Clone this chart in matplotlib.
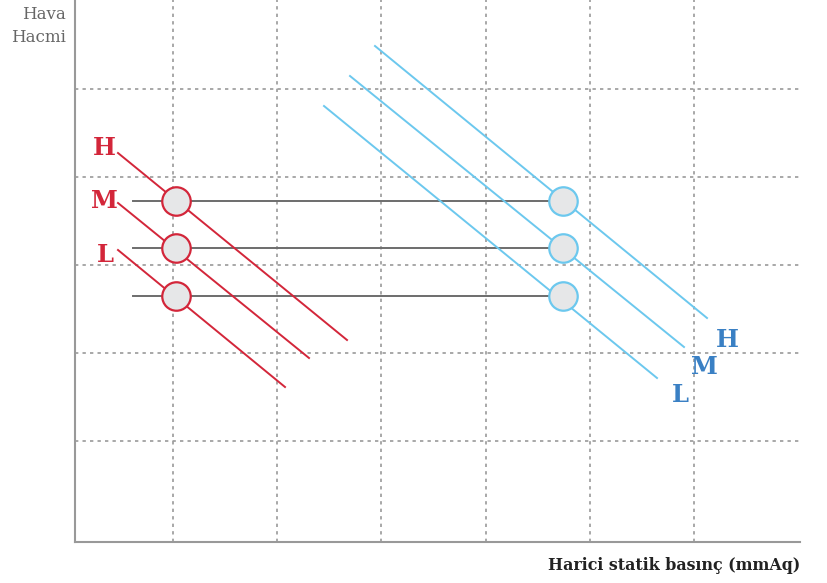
import matplotlib.pyplot as plt

# grid positions (pixel-like units)
grid_x = [173, 277, 381, 486, 590, 694]
grid_y = [89, 177, 265, 353, 441]

# working points (circles) : y positions for H, M, L
levels = ["H", "M", "L"]
point_y = [201, 248, 296]
red_x = 176
blue_x = 563
conn_x = [133, 563]

# fan curves (start / end points) for the small (red) and big (blue) unit
red_start = [(118, 153), (118, 203), (118, 250)]
red_end = [(347, 340), (309, 358), (285, 387)]
blue_start = [(375, 46), (350, 76), (324, 106)]
blue_end = [(707, 318), (684, 347), (657, 378)]

red_lbl = [(104, 148), (104, 201), (105, 255)]
blue_lbl = [(727, 340), (704, 367), (680, 395)]

RED = "#d3263a"
BLUE_LINE = "#6cc8ee"
BLUE_TXT = "#3a80c4"
GRAY = "#6d6d6d"
FILL = "#e6e7e8"

fig = plt.figure(figsize=(8.27, 5.83), dpi=100)
ax = fig.add_axes([75 / 827, 41 / 583, 725 / 827, 542 / 583])
ax.set_xlim(75, 800)
ax.set_ylim(542, 0)

for gx in grid_x:
    ax.axvline(gx, color="#999999", lw=1.2, ls=(0, (2, 2.5)), zorder=0)
for gy in grid_y:
    ax.axhline(gy, color="#999999", lw=1.2, ls=(0, (2, 2.5)), zorder=0)

# horizontal connecting lines
for y in point_y:
    ax.plot(conn_x, [y, y], color=GRAY, lw=1.4, zorder=1)

for (x0, y0), (x1, y1) in zip(red_start, red_end):
    ax.plot([x0, x1], [y0, y1], color=RED, lw=1.4, zorder=2)
for (x0, y0), (x1, y1) in zip(blue_start, blue_end):
    ax.plot([x0, x1], [y0, y1], color=BLUE_LINE, lw=1.4, zorder=2)

ax.scatter([red_x] * 3, point_y, s=420, facecolor=FILL, edgecolor=RED,
           linewidth=1.6, zorder=3)
ax.scatter([blue_x] * 3, point_y, s=420, facecolor=FILL, edgecolor=BLUE_LINE,
           linewidth=1.6, zorder=3)

for lab, (x, y) in zip(levels, red_lbl):
    ax.text(x, y, lab, color=RED, fontsize=17.5, fontweight="bold",
            family="DejaVu Serif", ha="center", va="center")
for lab, (x, y) in zip(levels, blue_lbl):
    ax.text(x, y, lab, color=BLUE_TXT, fontsize=17.5, fontweight="bold",
            family="DejaVu Serif", ha="center", va="center")

for s in ["top", "right"]:
    ax.spines[s].set_visible(False)
for s in ["left", "bottom"]:
    ax.spines[s].set_color("#999999")
    ax.spines[s].set_linewidth(1.5)
ax.set_xticks([])
ax.set_yticks([])

fig.text(66 / 827, 1 - 26 / 583, "Hava\nHacmi", ha="right", va="center",
         color="#666666", fontsize=12, family="DejaVu Serif", linespacing=1.5)
fig.text(800 / 827, 1 - 566 / 583, "Harici statik basınç (mmAq)", ha="right",
         va="center", color="#222222", fontsize=11.4, fontweight="bold",
         family="DejaVu Serif")

fig.savefig("out.png", dpi=100)
